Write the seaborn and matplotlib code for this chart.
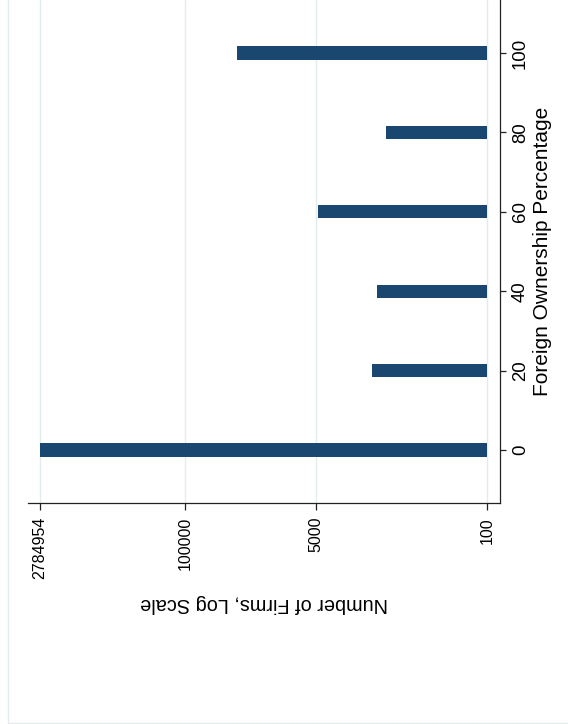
import matplotlib
matplotlib.use("Agg")
import matplotlib.pyplot as plt
import numpy as np
import pandas as pd
import seaborn as sns
from matplotlib.patches import Rectangle

# data
foreign_pct = [0, 20, 40, 60, 80, 100]
n_firms = [2784954, 1390, 1240, 4790, 1010, 30500]
value_ticks = [2784954, 100000, 5000, 100]
value_ticklabels = ["2784954", "100000", "5000", "100"]
pct_ticks = [0, 20, 40, 60, 80, 100]
bar_base = 100

sns.set_theme(style="white")
plt.rcParams["font.family"] = ["Liberation Sans", "DejaVu Sans"]
plt.rcParams["text.color"] = "black"
plt.rcParams["axes.labelcolor"] = "black"
plt.rcParams["xtick.color"] = "black"
plt.rcParams["ytick.color"] = "black"

df = pd.DataFrame({"pct": foreign_pct, "firms": n_firms})
df["length"] = df["firms"] - bar_base

fig = plt.figure(figsize=(5.68, 7.24), dpi=100)
ax = fig.add_axes([28 / 568, 1 - 503 / 724, 472 / 568, 503 / 724])

# bars start at 100 (Stata base), drawn horizontally on a log axis
sns.barplot(data=df, x="length", y="pct", orient="y", native_scale=True,
            width=0.165, color="#1a476f", saturation=1, linewidth=0,
            errorbar=None, left=bar_base, ax=ax)

ax.set_xscale("log")
ax.set_xlim(3.65e6, 74.3)
ax.set_ylim(-13.35, 113.35)

ax.set_xticks(value_ticks)
ax.set_xticklabels(value_ticklabels)
ax.xaxis.set_minor_locator(matplotlib.ticker.NullLocator())
ax.set_yticks(pct_ticks)
ax.set_yticklabels([str(p) for p in pct_ticks])

ax.yaxis.tick_right()
ax.tick_params(axis="x", which="major", direction="out", length=5, width=0.9,
               color="#222222", labelsize=11.5, labelrotation=90, pad=5,
               bottom=True)
ax.tick_params(axis="y", which="major", direction="out", length=4.5, width=0.9,
               color="#222222", labelsize=13.4, labelrotation=90, pad=4,
               right=True, left=False)
for lab in ax.get_yticklabels():
    lab.set_verticalalignment("center")

ax.grid(axis="x", color="#e3ebee", linewidth=1)
ax.grid(axis="y", visible=False)

for side in ["left", "top"]:
    ax.spines[side].set_visible(False)
for side in ["right", "bottom"]:
    ax.spines[side].set_color("#222222")
    ax.spines[side].set_linewidth(0.9)

ax.set_xlabel("Number of Firms, Log Scale", fontsize=14.3, rotation=180)
ax.xaxis.label.set_verticalalignment("center")
ax.xaxis.set_label_coords(0.5, -100 / 503)

ax.yaxis.set_label_position("right")
ax.set_ylabel("Foreign Ownership Percentage", fontsize=15, rotation=90)
ax.yaxis.label.set_verticalalignment("center")
ax.yaxis.set_label_coords((542 - 28) / 472, 0.5)

# light outer frame of the graph region (only left and bottom edges visible)
fig.add_artist(Rectangle((8 / 568, 1 / 724), 2, 2, transform=fig.transFigure,
                         fill=False, edgecolor="#e4ecee", linewidth=1))

fig.savefig("out.png", dpi=100)
